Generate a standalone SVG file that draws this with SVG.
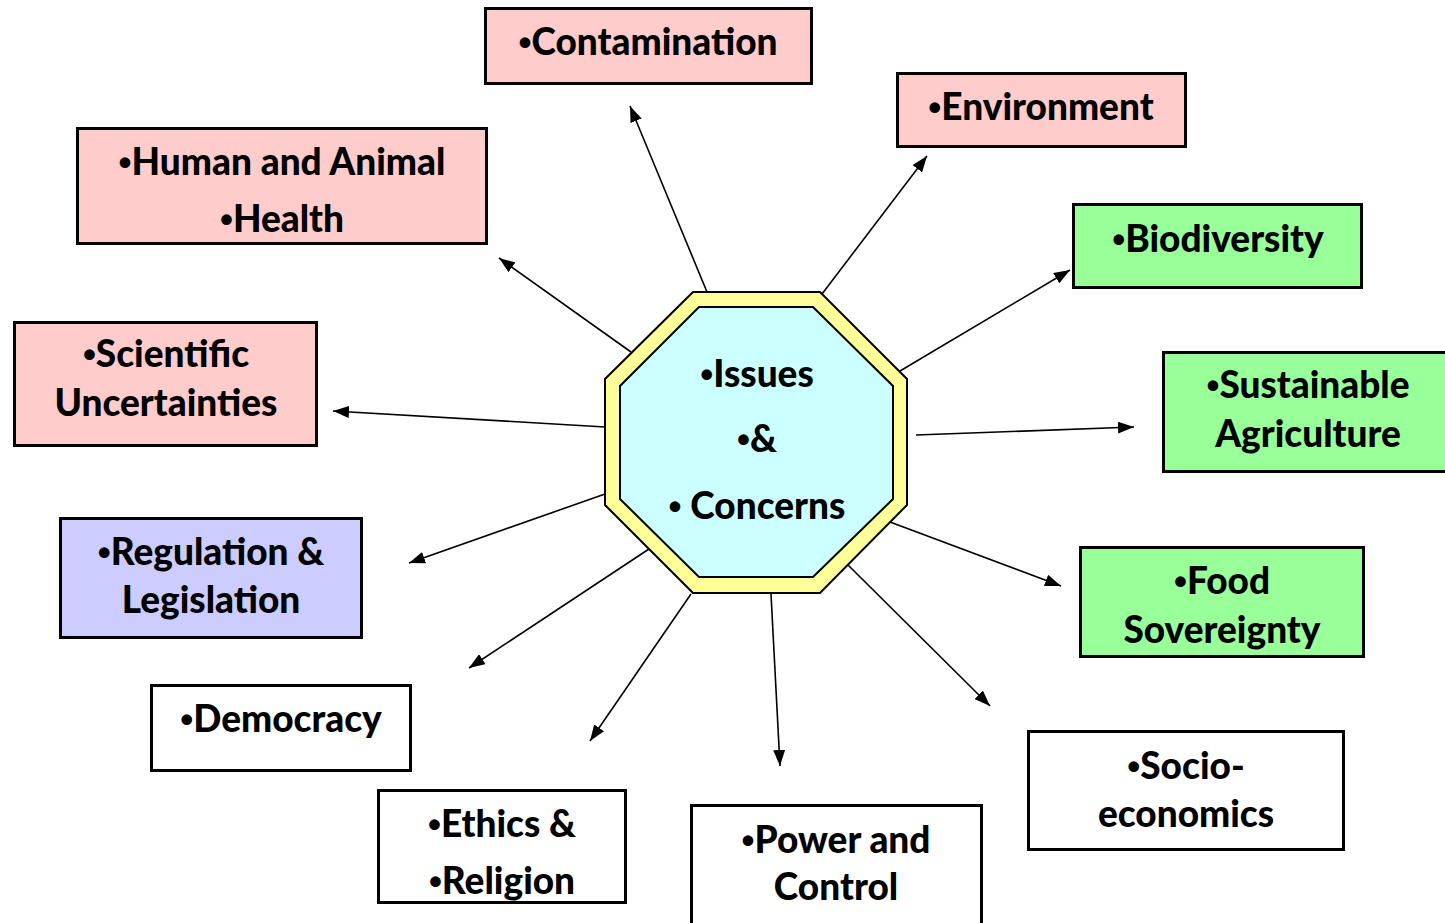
<svg xmlns="http://www.w3.org/2000/svg" width="1445" height="923" viewBox="0 0 1445 923">
  <defs>
    <marker id="arrow" viewBox="0 0 16 12" refX="16" refY="6" markerWidth="16" markerHeight="12" markerUnits="userSpaceOnUse" orient="auto">
      <path d="M0,0 L16,6 L0,12 Z" fill="#000"/>
    </marker>
    <style>
      .box { stroke: #000; stroke-width: 3; }
      .pink { fill: #FFCCCC; }
      .green { fill: #99FF99; }
      .lilac { fill: #CCCCFF; }
      .white { fill: #FFFFFF; }
      .label { font-family: Lato, "Liberation Sans", sans-serif; font-weight: 900; font-size: 37px; fill: #000; text-anchor: middle; }
      .b { font-family: "Liberation Sans", sans-serif; font-weight: bold; }
      .conn line { stroke: #000; stroke-width: 1.6; marker-end: url(#arrow); }
    </style>
  </defs>
  <rect width="1445" height="923" fill="#FFFFFF"/>

  <!-- spokes from the hub -->
  <g id="connectors" class="conn">
    <line x1="707" y1="292" x2="630" y2="106"/>
    <line x1="822" y1="294" x2="927" y2="156"/>
    <line x1="631" y1="352" x2="499" y2="258"/>
    <line x1="900" y1="371" x2="1070" y2="270"/>
    <line x1="605" y1="427" x2="333" y2="411"/>
    <line x1="916" y1="435" x2="1134" y2="427"/>
    <line x1="605" y1="494" x2="409" y2="563"/>
    <line x1="649" y1="549" x2="469" y2="668"/>
    <line x1="691" y1="594" x2="590" y2="741"/>
    <line x1="771" y1="594" x2="780" y2="766"/>
    <line x1="848" y1="565" x2="990" y2="706"/>
    <line x1="890" y1="522" x2="1061" y2="586"/>
  </g>

  <!-- hub -->
  <g id="hub">
    <polygon points="693,292 820,292 907,379 907,505 820,593 693,593 605,505 605,379" fill="#FFFF99" stroke="#000" stroke-width="2"/>
    <polygon points="699,307 813,307 893,386 893,499 813,577 699,577 620,499 620,386" fill="#CCFFFF" stroke="#000" stroke-width="2"/>
    <text class="label" x="757" y="387"><tspan class="b">•</tspan>Issues</text>
    <text class="label" x="757" y="452"><tspan class="b">•</tspan>&amp;</text>
    <text class="label" x="757" y="519"><tspan class="b">•</tspan> Concerns</text>
  </g>

  <g id="contamination">
    <rect class="box pink" x="485.5" y="8.5" width="326" height="75"/>
    <text class="label" x="648" y="55"><tspan class="b">•</tspan>Contamination</text>
  </g>
  <g id="environment">
    <rect class="box pink" x="897.5" y="73.5" width="288" height="73"/>
    <text class="label" x="1041" y="120"><tspan class="b">•</tspan>Environment</text>
  </g>
  <g id="health">
    <rect class="box pink" x="77.5" y="128.5" width="409" height="115"/>
    <text class="label" x="282" y="175"><tspan class="b">•</tspan>Human and Animal</text>
    <text class="label" x="282" y="232"><tspan class="b">•</tspan>Health</text>
  </g>
  <g id="biodiversity">
    <rect class="box green" x="1073.5" y="204.5" width="288" height="83"/>
    <text class="label" x="1218" y="252"><tspan class="b">•</tspan>Biodiversity</text>
  </g>
  <g id="uncertainties">
    <rect class="box pink" x="14.5" y="322.5" width="302" height="123"/>
    <text class="label" x="166" y="367"><tspan class="b">•</tspan>Scientific</text>
    <text class="label" x="166" y="416">Uncertainties</text>
  </g>
  <g id="agriculture">
    <rect class="box green" x="1163.5" y="352.5" width="284" height="119"/>
    <text class="label" x="1308" y="398"><tspan class="b">•</tspan>Sustainable</text>
    <text class="label" x="1308" y="447">Agriculture</text>
  </g>
  <g id="regulation">
    <rect class="box lilac" x="60.5" y="518.5" width="301" height="119"/>
    <text class="label" x="211" y="565"><tspan class="b">•</tspan>Regulation &amp;</text>
    <text class="label" x="211" y="613">Legislation</text>
  </g>
  <g id="food">
    <rect class="box green" x="1080.5" y="547.5" width="283" height="109"/>
    <text class="label" x="1222" y="594"><tspan class="b">•</tspan>Food</text>
    <text class="label" x="1222" y="643">Sovereignty</text>
  </g>
  <g id="democracy">
    <rect class="box white" x="151.5" y="685.5" width="259" height="85"/>
    <text class="label" x="281" y="732"><tspan class="b">•</tspan>Democracy</text>
  </g>
  <g id="socio">
    <rect class="box white" x="1028.5" y="731.5" width="315" height="118"/>
    <text class="label" x="1186" y="779"><tspan class="b">•</tspan>Socio-</text>
    <text class="label" x="1186" y="827">economics</text>
  </g>
  <g id="ethics">
    <rect class="box white" x="378.5" y="790.5" width="247" height="112"/>
    <text class="label" x="502" y="837"><tspan class="b">•</tspan>Ethics &amp;</text>
    <text class="label" x="502" y="894"><tspan class="b">•</tspan>Religion</text>
  </g>
  <g id="power">
    <rect class="box white" x="691.5" y="805.5" width="290" height="130"/>
    <text class="label" x="836" y="853"><tspan class="b">•</tspan>Power and</text>
    <text class="label" x="836" y="900">Control</text>
  </g>
</svg>
